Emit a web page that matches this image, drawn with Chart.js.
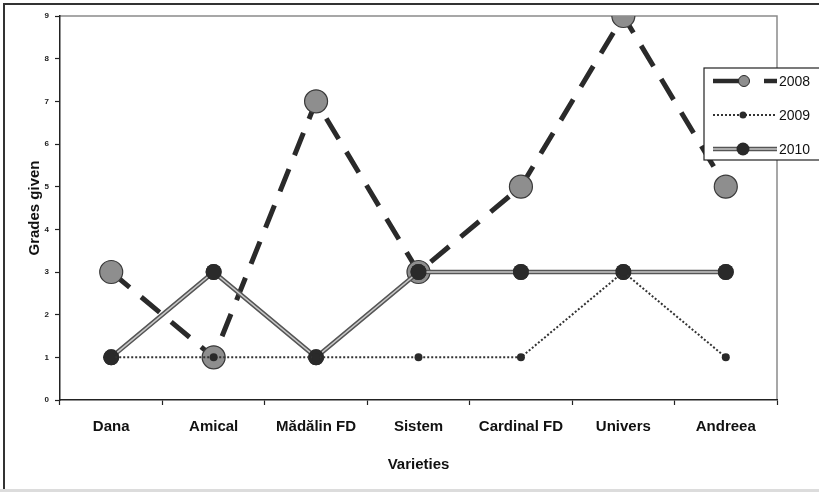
<!DOCTYPE html>
<html>
<head>
<meta charset="utf-8">
<script src="https://cdn.jsdelivr.net/npm/chart.js@4"></script>
<style>
  html, body { margin: 0; padding: 0; background: #fff; }
  #wrap { position: relative; width: 819px; height: 492px; overflow: hidden; }
  canvas { display: block; }
</style>
</head>
<body>
<div id="wrap"><canvas id="c" width="819" height="492"></canvas></div>
<script>
const varieties = ['Dana', 'Amical', 'Mădălin FD', 'Sistem', 'Cardinal FD', 'Univers', 'Andreea'];
const grades2008 = [3, 1, 7, 3, 5, 9, 5];
const grades2009 = [1, 1, 1, 1, 1, 3, 1];
const grades2010 = [1, 3, 1, 3, 3, 3, 3];
const seriesNames = ['2008', '2009', '2010'];
const yTicks = [0, 1, 2, 3, 4, 5, 6, 7, 8, 9];

const FONT = '"Liberation Sans", Arial, sans-serif';

// outer frame, plot frame (top/right) and the bottom strip
const framePlugin = {
  id: 'frame',
  beforeDraw(chart) {
    const ctx = chart.ctx;
    ctx.save();
    ctx.fillStyle = '#fff';
    ctx.fillRect(0, 0, chart.width, chart.height);
    ctx.fillStyle = '#dcdcdc';
    ctx.fillRect(0, 489, chart.width, 3);
    ctx.strokeStyle = '#333';
    ctx.lineWidth = 2;
    ctx.beginPath();
    ctx.moveTo(4, 489);
    ctx.lineTo(4, 4);
    ctx.lineTo(chart.width, 4);
    ctx.stroke();
    const a = chart.chartArea;
    ctx.strokeStyle = '#8a8a8a';
    ctx.lineWidth = 1.5;
    ctx.beginPath();
    ctx.moveTo(a.left, a.top);
    ctx.lineTo(a.right, a.top);
    ctx.lineTo(a.right, a.bottom);
    ctx.stroke();
    ctx.restore();
  }
};

// the 2010 line is drawn as a double stroke: dark edge with a light core
const doubleLinePlugin = {
  id: 'doubleLine',
  afterDatasetDraw(chart, args) {
    if (args.index !== 2) return;
    const meta = args.meta;
    const ctx = chart.ctx;
    ctx.save();
    ctx.strokeStyle = '#c8c8c8';
    ctx.lineWidth = 1.6;
    ctx.beginPath();
    meta.data.forEach((p, i) => { i ? ctx.lineTo(p.x, p.y) : ctx.moveTo(p.x, p.y); });
    ctx.stroke();
    ctx.restore();
    meta.data.forEach(p => p.draw(ctx, chart.chartArea));
  }
};

// legend box at the right edge
const legendPlugin = {
  id: 'boxLegend',
  afterDraw(chart) {
    const ctx = chart.ctx;
    const ds = chart.data.datasets;
    const x0 = 704, y0 = 68, rows = [81, 115, 149];
    ctx.save();
    ctx.fillStyle = '#fff';
    ctx.strokeStyle = '#222';
    ctx.lineWidth = 1.2;
    ctx.fillRect(x0, y0, 130, 92);
    ctx.strokeRect(x0, y0, 130, 92);

    // 2008
    let y = rows[0];
    ctx.strokeStyle = '#2a2a2a';
    ctx.lineWidth = 4.5;
    ctx.beginPath(); ctx.moveTo(713, y); ctx.lineTo(740, y); ctx.stroke();
    ctx.beginPath(); ctx.moveTo(764, y); ctx.lineTo(777, y); ctx.stroke();
    ctx.fillStyle = ds[0].pointBackgroundColor;
    ctx.lineWidth = 1;
    ctx.beginPath(); ctx.arc(744, y, 5.5, 0, Math.PI * 2); ctx.fill(); ctx.stroke();

    // 2009
    y = rows[1];
    ctx.strokeStyle = '#333';
    ctx.lineWidth = 2;
    ctx.setLineDash([2, 2]);
    ctx.beginPath(); ctx.moveTo(713, y); ctx.lineTo(777, y); ctx.stroke();
    ctx.setLineDash([]);
    ctx.fillStyle = '#2a2a2a';
    ctx.beginPath(); ctx.arc(743, y, 3.5, 0, Math.PI * 2); ctx.fill();

    // 2010
    y = rows[2];
    ctx.strokeStyle = '#555';
    ctx.lineWidth = 4.5;
    ctx.beginPath(); ctx.moveTo(713, y); ctx.lineTo(777, y); ctx.stroke();
    ctx.strokeStyle = '#c8c8c8';
    ctx.lineWidth = 1.6;
    ctx.beginPath(); ctx.moveTo(713, y); ctx.lineTo(777, y); ctx.stroke();
    ctx.fillStyle = '#2a2a2a';
    ctx.beginPath(); ctx.arc(743, y, 6.5, 0, Math.PI * 2); ctx.fill();

    ctx.fillStyle = '#111';
    ctx.font = '14px ' + FONT;
    ctx.textBaseline = 'middle';
    ctx.textAlign = 'left';
    seriesNames.forEach((n, i) => ctx.fillText(n, 779, rows[i] + 1));
    ctx.restore();
  }
};

new Chart(document.getElementById('c'), {
  type: 'line',
  data: {
    labels: varieties,
    datasets: [
      {
        label: seriesNames[0],
        data: grades2008,
        order: 3,
        borderColor: '#2a2a2a',
        borderWidth: 5,
        borderDash: [24, 15],
        borderCapStyle: 'butt',
        pointRadius: 11.5,
        pointBackgroundColor: '#8e8e8e',
        pointBorderColor: '#3a3a3a',
        pointBorderWidth: 1.2,
        tension: 0
      },
      {
        label: seriesNames[1],
        data: grades2009,
        order: 1,
        borderColor: '#333',
        borderWidth: 2,
        borderDash: [2, 2],
        pointRadius: 4,
        pointBackgroundColor: '#2a2a2a',
        pointBorderColor: '#2a2a2a',
        pointBorderWidth: 0,
        tension: 0
      },
      {
        label: seriesNames[2],
        data: grades2010,
        order: 2,
        borderColor: '#555',
        borderWidth: 4.5,
        pointRadius: 8,
        pointBackgroundColor: '#2a2a2a',
        pointBorderColor: '#2a2a2a',
        pointBorderWidth: 0,
        tension: 0
      }
    ]
  },
  options: {
    responsive: false,
    animation: false,
    devicePixelRatio: 1,
    layout: { padding: { left: 22, top: 16, right: 42, bottom: 14 } },
    plugins: {
      legend: { display: false },
      tooltip: { enabled: false }
    },
    scales: {
      x: {
        offset: true,
        grid: { offset: true, drawOnChartArea: false, color: '#222', tickLength: 5, tickWidth: 1.2 },
        border: { color: '#222', width: 1.5 },
        ticks: { color: '#111', font: { family: FONT, size: 15, weight: 'bold' }, padding: 13, maxRotation: 0, autoSkip: false },
        title: { display: true, text: 'Varieties', color: '#111', font: { family: FONT, size: 15, weight: 'bold' }, padding: { top: 10 } },
        afterFit(scale) { scale.height = 78; }
      },
      y: {
        min: 0,
        max: 9,
        afterBuildTicks(scale) { scale.ticks = yTicks.map(v => ({ value: v })); },
        grid: { drawOnChartArea: false, color: '#222', tickLength: 5, tickWidth: 1.2 },
        border: { color: '#222', width: 1.5 },
        ticks: { color: '#222', font: { family: FONT, size: 8, weight: 'bold' }, padding: 6 },
        title: { display: true, text: 'Grades given', color: '#111', font: { family: FONT, size: 15, weight: 'bold' }, padding: { bottom: 4 } },
        afterFit(scale) { scale.width = 38; }
      }
    }
  },
  plugins: [framePlugin, doubleLinePlugin, legendPlugin]
});
</script>
</body>
</html>
